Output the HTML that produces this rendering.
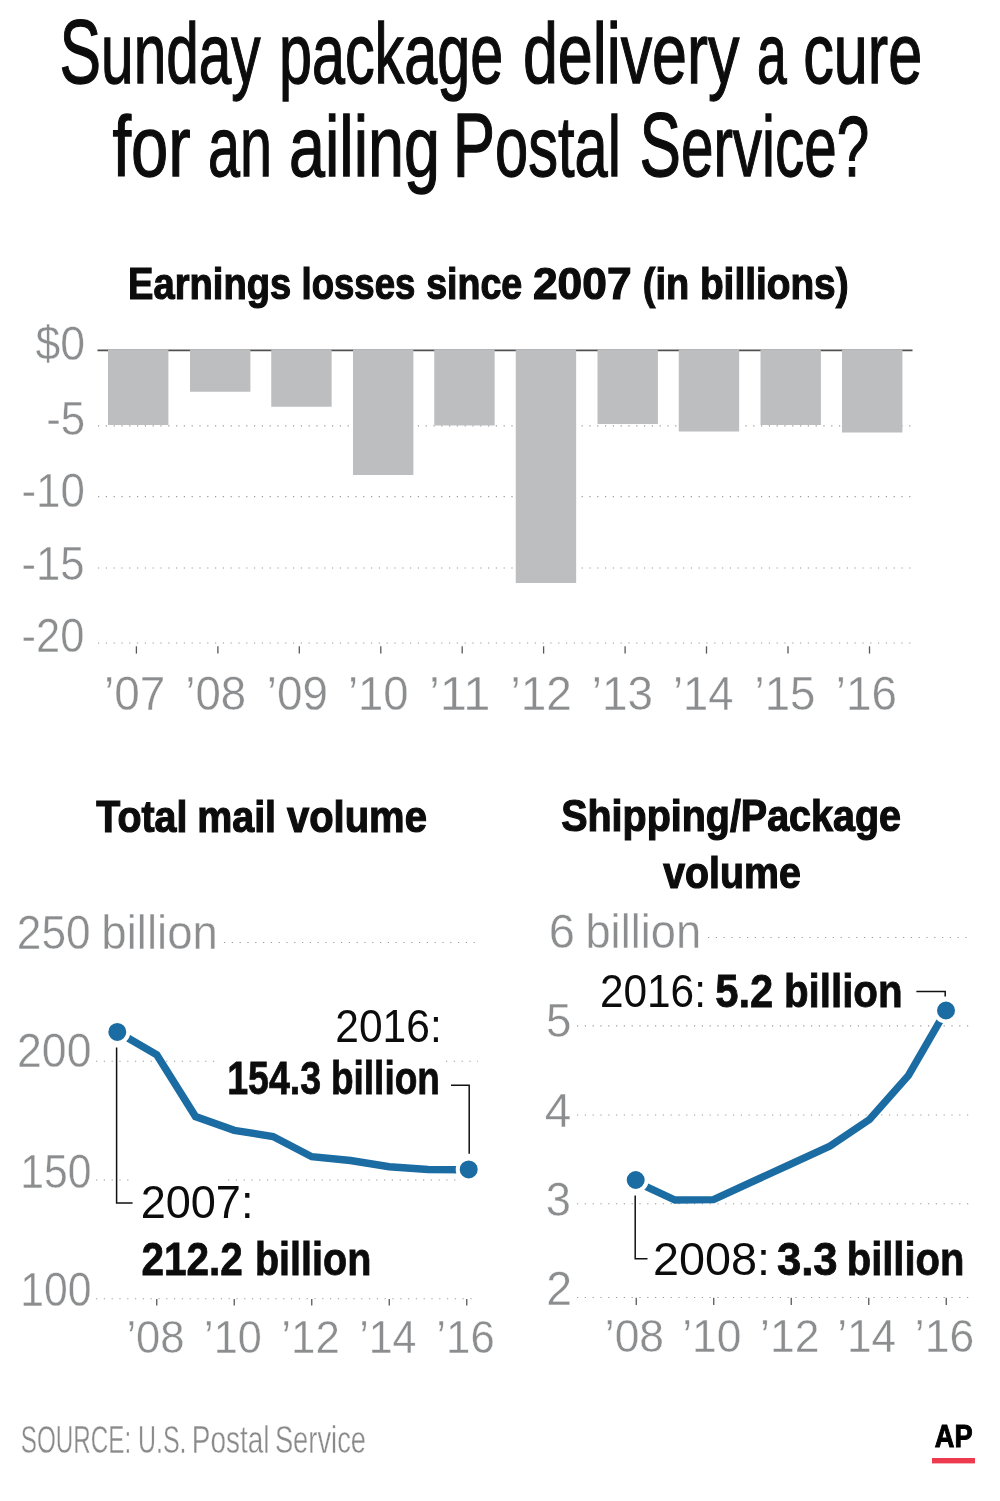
<!DOCTYPE html>
<html lang="en"><head><meta charset="utf-8"><title>Sunday package delivery a cure for an ailing Postal Service?</title>
<style>html,body{margin:0;padding:0;background:#fff}svg{display:block}text{font-family:"Liberation Sans",sans-serif;white-space:pre}</style></head><body>
<svg width="1000" height="1501" viewBox="0 0 1000 1501">
<rect width="1000" height="1501" fill="#fff"/>
<g id="barchart">
<path d="M98 425.8H913" stroke="#9a9a9a" stroke-width="1.2" stroke-dasharray="1.2 6.6" fill="none"/>
<path d="M98 496.7H913" stroke="#9a9a9a" stroke-width="1.2" stroke-dasharray="1.2 6.6" fill="none"/>
<path d="M98 568.0H913" stroke="#9a9a9a" stroke-width="1.2" stroke-dasharray="1.2 6.6" fill="none"/>
<path d="M98 643.0H913" stroke="#9a9a9a" stroke-width="1.2" stroke-dasharray="1.2 6.6" fill="none"/>
<path d="M97.5 350.4H912.5" stroke="#505050" stroke-width="1.6"/>
<rect x="108.00" y="349.4" width="60.4" height="75.60" fill="#bcbec0"/>
<rect x="190.00" y="349.4" width="60.4" height="42.35" fill="#bcbec0"/>
<rect x="271.25" y="349.4" width="60.4" height="57.35" fill="#bcbec0"/>
<rect x="353.00" y="349.4" width="60.4" height="125.60" fill="#bcbec0"/>
<rect x="434.25" y="349.4" width="60.4" height="76.10" fill="#bcbec0"/>
<rect x="515.75" y="349.4" width="60.4" height="233.60" fill="#bcbec0"/>
<rect x="597.50" y="349.4" width="60.4" height="74.60" fill="#bcbec0"/>
<rect x="678.75" y="349.4" width="60.4" height="82.10" fill="#bcbec0"/>
<rect x="760.50" y="349.4" width="60.4" height="75.60" fill="#bcbec0"/>
<rect x="842.00" y="349.4" width="60.4" height="83.10" fill="#bcbec0"/>
<path d="M136.4 646.3V653.6" stroke="#58595b" stroke-width="1.3"/>
<path d="M217.9 646.3V653.6" stroke="#58595b" stroke-width="1.3"/>
<path d="M299.3 646.3V653.6" stroke="#58595b" stroke-width="1.3"/>
<path d="M380.8 646.3V653.6" stroke="#58595b" stroke-width="1.3"/>
<path d="M462.2 646.3V653.6" stroke="#58595b" stroke-width="1.3"/>
<path d="M543.6 646.3V653.6" stroke="#58595b" stroke-width="1.3"/>
<path d="M625.1 646.3V653.6" stroke="#58595b" stroke-width="1.3"/>
<path d="M706.5 646.3V653.6" stroke="#58595b" stroke-width="1.3"/>
<path d="M788.0 646.3V653.6" stroke="#58595b" stroke-width="1.3"/>
<path d="M869.5 646.3V653.6" stroke="#58595b" stroke-width="1.3"/>
</g>
<g id="leftchart">
<path d="M224 942.5H478" stroke="#9a9a9a" stroke-width="1.2" stroke-dasharray="1.2 6.6" fill="none"/>
<path d="M96 1061.25H215M446 1061.25H478" stroke="#9a9a9a" stroke-width="1.2" stroke-dasharray="1.2 6.6" fill="none"/>
<path d="M96 1180H132M228 1180H457" stroke="#9a9a9a" stroke-width="1.2" stroke-dasharray="1.2 6.6" fill="none"/>
<path d="M96 1298.75H478" stroke="#9a9a9a" stroke-width="1.2" stroke-dasharray="1.2 6.6" fill="none"/>
<path d="M156.75 1299V1305.6" stroke="#58595b" stroke-width="1.3"/>
<path d="M234.25 1299V1305.6" stroke="#58595b" stroke-width="1.3"/>
<path d="M311.75 1299V1305.6" stroke="#58595b" stroke-width="1.3"/>
<path d="M389.25 1299V1305.6" stroke="#58595b" stroke-width="1.3"/>
<path d="M466.75 1299V1305.6" stroke="#58595b" stroke-width="1.3"/>
</g>
<g id="rightchart">
<path d="M708 937.5H968.5" stroke="#9a9a9a" stroke-width="1.2" stroke-dasharray="1.2 6.6" fill="none"/>
<path d="M577 1025.90H968.5" stroke="#9a9a9a" stroke-width="1.2" stroke-dasharray="1.2 6.6" fill="none"/>
<path d="M577 1115.00H968.5" stroke="#9a9a9a" stroke-width="1.2" stroke-dasharray="1.2 6.6" fill="none"/>
<path d="M577 1203.75H968.5" stroke="#9a9a9a" stroke-width="1.2" stroke-dasharray="1.2 6.6" fill="none"/>
<path d="M577 1297.50H968.5" stroke="#9a9a9a" stroke-width="1.2" stroke-dasharray="1.2 6.6" fill="none"/>
<path d="M636.25 1297.8V1305" stroke="#58595b" stroke-width="1.3"/>
<path d="M713.75 1297.8V1305" stroke="#58595b" stroke-width="1.3"/>
<path d="M791.25 1297.8V1305" stroke="#58595b" stroke-width="1.3"/>
<path d="M868.75 1297.8V1305" stroke="#58595b" stroke-width="1.3"/>
<path d="M946.25 1297.8V1305" stroke="#58595b" stroke-width="1.3"/>
</g>
<g id="texts">
<text id="t1_0" x="59.53" y="82.50" font-size="86" font-weight="400" fill="#0c0c0c" textLength="217.41" lengthAdjust="spacingAndGlyphs" stroke="#0c0c0c" stroke-width="1.3"><tspan font-size="91.5">S</tspan>unday </text>
<text id="t1_1" x="279.01" y="82.50" font-size="86" font-weight="400" fill="#0c0c0c" textLength="240.58" lengthAdjust="spacingAndGlyphs" stroke="#0c0c0c" stroke-width="1.3">package </text>
<text id="t1_2" x="522.94" y="82.50" font-size="86" font-weight="400" fill="#0c0c0c" textLength="233.78" lengthAdjust="spacingAndGlyphs" stroke="#0c0c0c" stroke-width="1.3">delivery </text>
<text id="t1_3" x="756.93" y="82.50" font-size="86" font-weight="400" fill="#0c0c0c" textLength="44.63" lengthAdjust="spacingAndGlyphs" stroke="#0c0c0c" stroke-width="1.3">a </text>
<text id="t1_4" x="803.31" y="82.50" font-size="86" font-weight="400" fill="#0c0c0c" textLength="118.90" lengthAdjust="spacingAndGlyphs" stroke="#0c0c0c" stroke-width="1.3">cure</text>
<text id="t2_0" x="112.44" y="176.00" font-size="86" font-weight="400" fill="#0c0c0c" textLength="96.76" lengthAdjust="spacingAndGlyphs" stroke="#0c0c0c" stroke-width="1.3">for </text>
<text id="t2_1" x="207.96" y="176.00" font-size="86" font-weight="400" fill="#0c0c0c" textLength="80.00" lengthAdjust="spacingAndGlyphs" stroke="#0c0c0c" stroke-width="1.3">an </text>
<text id="t2_2" x="288.98" y="176.00" font-size="86" font-weight="400" fill="#0c0c0c" textLength="169.00" lengthAdjust="spacingAndGlyphs" stroke="#0c0c0c" stroke-width="1.3">ailing </text>
<text id="t2_3" x="452.70" y="176.00" font-size="86" font-weight="400" fill="#0c0c0c" textLength="184.91" lengthAdjust="spacingAndGlyphs" stroke="#0c0c0c" stroke-width="1.3"><tspan font-size="91.5">P</tspan>ostal </text>
<text id="t2_4" x="639.49" y="176.00" font-size="86" font-weight="400" fill="#0c0c0c" textLength="229.68" lengthAdjust="spacingAndGlyphs" stroke="#0c0c0c" stroke-width="1.3"><tspan font-size="91.5">S</tspan>ervice?</text>
<text id="s1_0" x="128.08" y="298.75" font-size="44" font-weight="700" fill="#0c0c0c" textLength="173.68" lengthAdjust="spacingAndGlyphs" stroke="#0c0c0c" stroke-width="1.2">Earnings </text>
<text id="s1_1" x="301.58" y="298.75" font-size="44" font-weight="700" fill="#0c0c0c" textLength="123.86" lengthAdjust="spacingAndGlyphs" stroke="#0c0c0c" stroke-width="1.2">losses </text>
<text id="s1_2" x="426.14" y="298.75" font-size="44" font-weight="700" fill="#0c0c0c" textLength="106.48" lengthAdjust="spacingAndGlyphs" stroke="#0c0c0c" stroke-width="1.2">since </text>
<text id="s1_3" x="532.97" y="298.75" font-size="44" font-weight="700" fill="#0c0c0c" textLength="110.88" lengthAdjust="spacingAndGlyphs" stroke="#0c0c0c" stroke-width="1.2">2007 </text>
<text id="s1_4" x="642.82" y="298.75" font-size="44" font-weight="700" fill="#0c0c0c" textLength="56.92" lengthAdjust="spacingAndGlyphs" stroke="#0c0c0c" stroke-width="1.2">(in </text>
<text id="s1_5" x="699.91" y="298.75" font-size="44" font-weight="700" fill="#0c0c0c" textLength="148.68" lengthAdjust="spacingAndGlyphs" stroke="#0c0c0c" stroke-width="1.2">billions)</text>
<text id="y0" x="35.51" y="360.00" font-size="48" font-weight="400" fill="#8b8d8f" textLength="49.56" lengthAdjust="spacingAndGlyphs" stroke="#fff" stroke-width="0.4">$0</text>
<text id="y5" x="46.16" y="434.50" font-size="48" font-weight="400" fill="#8b8d8f" textLength="38.93" lengthAdjust="spacingAndGlyphs" stroke="#fff" stroke-width="0.4">-5</text>
<text id="y10" x="21.41" y="506.50" font-size="48" font-weight="400" fill="#8b8d8f" textLength="63.37" lengthAdjust="spacingAndGlyphs" stroke="#fff" stroke-width="0.4">-10</text>
<text id="y15" x="21.56" y="579.50" font-size="48" font-weight="400" fill="#8b8d8f" textLength="63.04" lengthAdjust="spacingAndGlyphs" stroke="#fff" stroke-width="0.4">-15</text>
<text id="y20" x="21.58" y="651.75" font-size="48" font-weight="400" fill="#8b8d8f" textLength="62.76" lengthAdjust="spacingAndGlyphs" stroke="#fff" stroke-width="0.4">-20</text>
<text id="x07" x="103.99" y="710.40" font-size="48" font-weight="400" fill="#8b8d8f" textLength="61.34" lengthAdjust="spacingAndGlyphs" stroke="#fff" stroke-width="0.4">’07</text>
<text id="x08" x="185.33" y="710.40" font-size="48" font-weight="400" fill="#8b8d8f" textLength="60.89" lengthAdjust="spacingAndGlyphs" stroke="#fff" stroke-width="0.4">’08</text>
<text id="x09" x="266.71" y="710.40" font-size="48" font-weight="400" fill="#8b8d8f" textLength="61.21" lengthAdjust="spacingAndGlyphs" stroke="#fff" stroke-width="0.4">’09</text>
<text id="x10" x="348.01" y="710.40" font-size="48" font-weight="400" fill="#8b8d8f" textLength="60.62" lengthAdjust="spacingAndGlyphs" stroke="#fff" stroke-width="0.4">’10</text>
<text id="x11" x="428.93" y="710.40" font-size="48" font-weight="400" fill="#8b8d8f" textLength="61.57" lengthAdjust="spacingAndGlyphs" stroke="#fff" stroke-width="0.4">’11</text>
<text id="x12" x="510.58" y="710.40" font-size="48" font-weight="400" fill="#8b8d8f" textLength="61.34" lengthAdjust="spacingAndGlyphs" stroke="#fff" stroke-width="0.4">’12</text>
<text id="x13" x="591.79" y="710.40" font-size="48" font-weight="400" fill="#8b8d8f" textLength="61.15" lengthAdjust="spacingAndGlyphs" stroke="#fff" stroke-width="0.4">’13</text>
<text id="x14" x="673.06" y="710.40" font-size="48" font-weight="400" fill="#8b8d8f" textLength="60.47" lengthAdjust="spacingAndGlyphs" stroke="#fff" stroke-width="0.4">’14</text>
<text id="x15" x="754.54" y="710.40" font-size="48" font-weight="400" fill="#8b8d8f" textLength="60.88" lengthAdjust="spacingAndGlyphs" stroke="#fff" stroke-width="0.4">’15</text>
<text id="x16" x="835.84" y="710.40" font-size="48" font-weight="400" fill="#8b8d8f" textLength="61.14" lengthAdjust="spacingAndGlyphs" stroke="#fff" stroke-width="0.4">’16</text>
<text id="lt_0" x="96.30" y="831.50" font-size="44" font-weight="700" fill="#0c0c0c" textLength="101.97" lengthAdjust="spacingAndGlyphs" stroke="#0c0c0c" stroke-width="1.2">Total </text>
<text id="lt_1" x="197.23" y="831.50" font-size="44" font-weight="700" fill="#0c0c0c" textLength="89.81" lengthAdjust="spacingAndGlyphs" stroke="#0c0c0c" stroke-width="1.2">mail </text>
<text id="lt_2" x="286.95" y="831.50" font-size="44" font-weight="700" fill="#0c0c0c" textLength="139.92" lengthAdjust="spacingAndGlyphs" stroke="#0c0c0c" stroke-width="1.2">volume</text>
<text id="l250_0" x="16.87" y="948.50" font-size="47.5" font-weight="400" fill="#8b8d8f" textLength="86.03" lengthAdjust="spacingAndGlyphs" stroke="#fff" stroke-width="0.4">250 </text>
<text id="l250_1" x="101.34" y="948.50" font-size="47.5" font-weight="400" fill="#8b8d8f" textLength="116.52" lengthAdjust="spacingAndGlyphs" stroke="#fff" stroke-width="0.4">billion</text>
<text id="l200" x="17.00" y="1067.00" font-size="47.5" font-weight="400" fill="#8b8d8f" textLength="74.48" lengthAdjust="spacingAndGlyphs" stroke="#fff" stroke-width="0.4">200</text>
<text id="l150" x="20.30" y="1187.50" font-size="47.5" font-weight="400" fill="#8b8d8f" textLength="71.31" lengthAdjust="spacingAndGlyphs" stroke="#fff" stroke-width="0.4">150</text>
<text id="l100" x="20.30" y="1305.75" font-size="47.5" font-weight="400" fill="#8b8d8f" textLength="71.31" lengthAdjust="spacingAndGlyphs" stroke="#fff" stroke-width="0.4">100</text>
<text id="la1" x="335.35" y="1042.40" font-size="47" font-weight="400" fill="#0c0c0c" textLength="106.36" lengthAdjust="spacingAndGlyphs">2016:</text>
<text id="la2_0" x="227.14" y="1094.00" font-size="47" font-weight="700" fill="#0c0c0c" textLength="104.49" lengthAdjust="spacingAndGlyphs" stroke="#0c0c0c" stroke-width="0.8">154.3 </text>
<text id="la2_1" x="330.93" y="1094.00" font-size="47" font-weight="700" fill="#0c0c0c" textLength="109.03" lengthAdjust="spacingAndGlyphs" stroke="#0c0c0c" stroke-width="0.8">billion</text>
<text id="la3" x="140.64" y="1218.20" font-size="47" font-weight="400" fill="#0c0c0c" textLength="112.86" lengthAdjust="spacingAndGlyphs">2007:</text>
<text id="la4_0" x="141.43" y="1274.50" font-size="47" font-weight="700" fill="#0c0c0c" textLength="112.79" lengthAdjust="spacingAndGlyphs" stroke="#0c0c0c" stroke-width="0.8">212.2 </text>
<text id="la4_1" x="254.96" y="1274.50" font-size="47" font-weight="700" fill="#0c0c0c" textLength="116.44" lengthAdjust="spacingAndGlyphs" stroke="#0c0c0c" stroke-width="0.8">billion</text>
<text id="lx08" x="126.39" y="1352.50" font-size="47" font-weight="400" fill="#8b8d8f" textLength="58.23" lengthAdjust="spacingAndGlyphs" stroke="#fff" stroke-width="0.4">’08</text>
<text id="lx10" x="204.02" y="1352.50" font-size="47" font-weight="400" fill="#8b8d8f" textLength="57.76" lengthAdjust="spacingAndGlyphs" stroke="#fff" stroke-width="0.4">’10</text>
<text id="lx12" x="281.31" y="1352.50" font-size="47" font-weight="400" fill="#8b8d8f" textLength="58.52" lengthAdjust="spacingAndGlyphs" stroke="#fff" stroke-width="0.4">’12</text>
<text id="lx14" x="359.18" y="1352.50" font-size="47" font-weight="400" fill="#8b8d8f" textLength="57.31" lengthAdjust="spacingAndGlyphs" stroke="#fff" stroke-width="0.4">’14</text>
<text id="lx16" x="436.37" y="1352.50" font-size="47" font-weight="400" fill="#8b8d8f" textLength="58.39" lengthAdjust="spacingAndGlyphs" stroke="#fff" stroke-width="0.4">’16</text>
<text id="rt1" x="561.23" y="831.25" font-size="44" font-weight="700" fill="#0c0c0c" textLength="339.68" lengthAdjust="spacingAndGlyphs" stroke="#0c0c0c" stroke-width="1.2">Shipping/Package</text>
<text id="rt2" x="663.28" y="888.00" font-size="44" font-weight="700" fill="#0c0c0c" textLength="137.50" lengthAdjust="spacingAndGlyphs" stroke="#0c0c0c" stroke-width="1.2">volume</text>
<text id="r6_0" x="548.81" y="948.00" font-size="47.5" font-weight="400" fill="#8b8d8f" textLength="39.30" lengthAdjust="spacingAndGlyphs" stroke="#fff" stroke-width="0.4">6 </text>
<text id="r6_1" x="585.46" y="948.00" font-size="47.5" font-weight="400" fill="#8b8d8f" textLength="115.65" lengthAdjust="spacingAndGlyphs" stroke="#fff" stroke-width="0.4">billion</text>
<text id="r5" x="546.12" y="1037.00" font-size="47.5" font-weight="400" fill="#8b8d8f" textLength="25.47" lengthAdjust="spacingAndGlyphs" stroke="#fff" stroke-width="0.4">5</text>
<text id="r4" x="544.83" y="1127.00" font-size="47.5" font-weight="400" fill="#8b8d8f" textLength="26.57" lengthAdjust="spacingAndGlyphs" stroke="#fff" stroke-width="0.4">4</text>
<text id="r3" x="545.68" y="1216.25" font-size="47.5" font-weight="400" fill="#8b8d8f" textLength="25.23" lengthAdjust="spacingAndGlyphs" stroke="#fff" stroke-width="0.4">3</text>
<text id="r2" x="546.17" y="1305.00" font-size="47.5" font-weight="400" fill="#8b8d8f" textLength="25.85" lengthAdjust="spacingAndGlyphs" stroke="#fff" stroke-width="0.4">2</text>
<text id="ra1" x="599.93" y="1006.75" font-size="47" font-weight="400" fill="#0c0c0c" textLength="105.98" lengthAdjust="spacingAndGlyphs">2016:</text>
<text id="ra2_0" x="715.22" y="1006.75" font-size="47" font-weight="700" fill="#0c0c0c" textLength="69.64" lengthAdjust="spacingAndGlyphs" stroke="#0c0c0c" stroke-width="0.8">5.2 </text>
<text id="ra2_1" x="783.90" y="1006.75" font-size="47" font-weight="700" fill="#0c0c0c" textLength="118.77" lengthAdjust="spacingAndGlyphs" stroke="#0c0c0c" stroke-width="0.8">billion</text>
<text id="ra3" x="653.05" y="1275.30" font-size="47" font-weight="400" fill="#0c0c0c" textLength="116.94" lengthAdjust="spacingAndGlyphs">2008:</text>
<text id="ra4_0" x="776.89" y="1275.30" font-size="47" font-weight="700" fill="#0c0c0c" textLength="72.88" lengthAdjust="spacingAndGlyphs" stroke="#0c0c0c" stroke-width="0.8">3.3 </text>
<text id="ra4_1" x="846.73" y="1275.30" font-size="47" font-weight="700" fill="#0c0c0c" textLength="117.71" lengthAdjust="spacingAndGlyphs" stroke="#0c0c0c" stroke-width="0.8">billion</text>
<text id="rx08" x="604.81" y="1352.00" font-size="47" font-weight="400" fill="#8b8d8f" textLength="59.29" lengthAdjust="spacingAndGlyphs" stroke="#fff" stroke-width="0.4">’08</text>
<text id="rx10" x="682.17" y="1352.00" font-size="47" font-weight="400" fill="#8b8d8f" textLength="59.25" lengthAdjust="spacingAndGlyphs" stroke="#fff" stroke-width="0.4">’10</text>
<text id="rx12" x="760.05" y="1352.00" font-size="47" font-weight="400" fill="#8b8d8f" textLength="59.34" lengthAdjust="spacingAndGlyphs" stroke="#fff" stroke-width="0.4">’12</text>
<text id="rx14" x="837.23" y="1352.00" font-size="47" font-weight="400" fill="#8b8d8f" textLength="58.92" lengthAdjust="spacingAndGlyphs" stroke="#fff" stroke-width="0.4">’14</text>
<text id="rx16" x="914.82" y="1352.00" font-size="47" font-weight="400" fill="#8b8d8f" textLength="59.36" lengthAdjust="spacingAndGlyphs" stroke="#fff" stroke-width="0.4">’16</text>
<text id="src_0" x="20.74" y="1452.80" font-size="38.5" font-weight="400" fill="#8a8a8a" textLength="117.16" lengthAdjust="spacingAndGlyphs" stroke="#fff" stroke-width="0.4">SOURCE: </text>
<text id="src_1" x="137.96" y="1452.80" font-size="38.5" font-weight="400" fill="#8a8a8a" textLength="55.49" lengthAdjust="spacingAndGlyphs" stroke="#fff" stroke-width="0.4">U.S. </text>
<text id="src_2" x="191.80" y="1452.80" font-size="38.5" font-weight="400" fill="#8a8a8a" textLength="85.48" lengthAdjust="spacingAndGlyphs" stroke="#fff" stroke-width="0.4">Postal </text>
<text id="src_3" x="274.88" y="1452.80" font-size="38.5" font-weight="400" fill="#8a8a8a" textLength="91.12" lengthAdjust="spacingAndGlyphs" stroke="#fff" stroke-width="0.4">Service</text>
<text id="ap" x="934.80" y="1446.60" font-size="31.5" font-weight="700" fill="#000000" textLength="37.76" lengthAdjust="spacingAndGlyphs" stroke="#000000" stroke-width="1.0">AP</text>
</g>
<g id="lines" fill="none">
<polyline points="118.00,1032.28 156.75,1054.84 195.50,1116.59 234.25,1130.36 273.00,1136.54 311.75,1156.72 350.50,1160.53 389.25,1166.70 428.00,1169.55 466.75,1169.79" stroke="#1b6ca2" stroke-width="7.4" stroke-linejoin="miter"/>
<polyline points="636.00,1181.80 675.00,1200.00 713.50,1199.60 752.50,1181.60 791.25,1163.80 830.00,1146.00 869.50,1119.50 908.50,1075.40 946.00,1010.50" stroke="#1b6ca2" stroke-width="7.4" stroke-linejoin="miter"/>
<circle cx="117.3" cy="1031.9" r="11" fill="#1b6ca2" stroke="#fff" stroke-width="4"/>
<circle cx="468.7" cy="1169.4" r="11" fill="#1b6ca2" stroke="#fff" stroke-width="4"/>
<circle cx="635.7" cy="1180.0" r="11" fill="#1b6ca2" stroke="#fff" stroke-width="4"/>
<circle cx="946.0" cy="1010.5" r="11" fill="#1b6ca2" stroke="#fff" stroke-width="4"/>
<path d="M116.6 1047.5V1203H132.6" stroke="#111" stroke-width="1.5" fill="none"/>
<path d="M451 1085.2H469.2V1153.8" stroke="#111" stroke-width="1.5" fill="none"/>
<path d="M635.2 1195.5V1258.8H647.5" stroke="#111" stroke-width="1.5" fill="none"/>
<path d="M916.4 991.4H945.2V996.5" stroke="#111" stroke-width="1.5" fill="none"/>
</g>
<rect x="932" y="1458" width="43" height="5.4" fill="#ee3a4e"/>
</svg></body></html>
